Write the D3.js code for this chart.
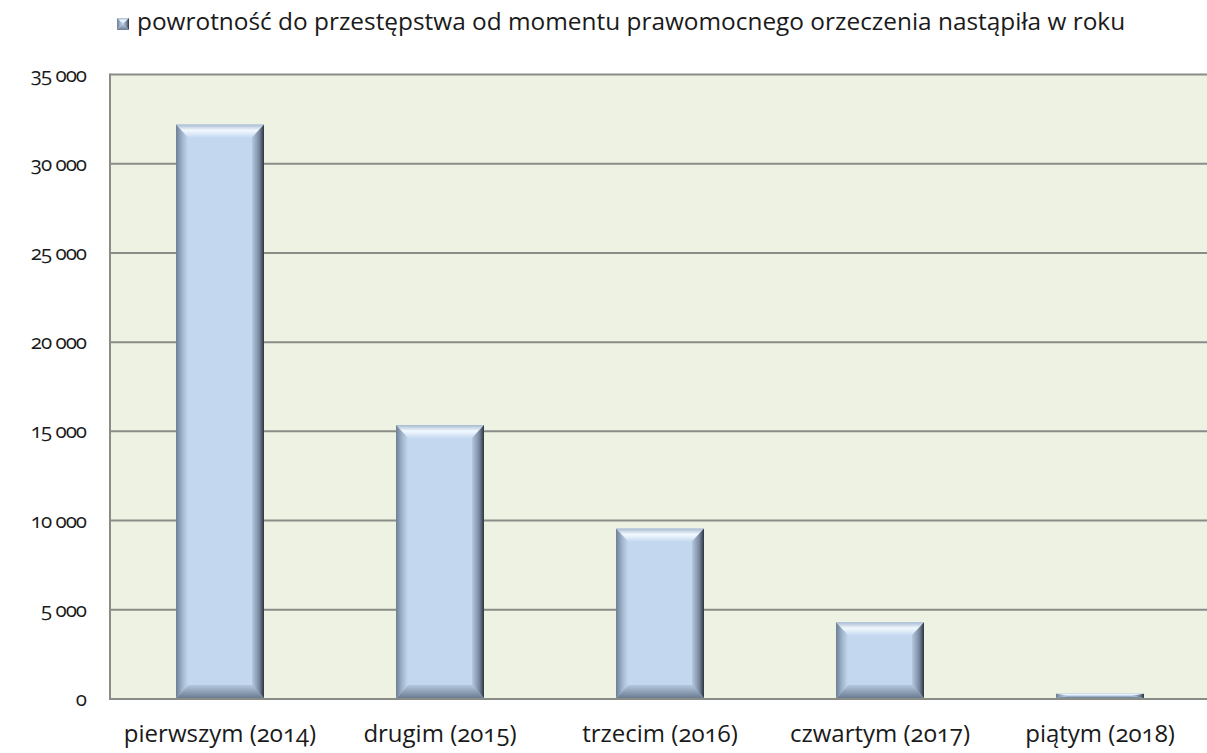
<!DOCTYPE html>
<html>
<head>
<meta charset="utf-8">
<script src="https://cdn.jsdelivr.net/npm/d3@7"></script>
<style>
  body { margin: 0; background: #fff; }
  text { font-family: "Open Sans", Lato, "Noto Sans", sans-serif; fill: #1a1a1a; font-variant-numeric: oldstyle-nums; }
</style>
</head>
<body>
<svg id="chart" width="1207" height="753"></svg>
<script>
const categories = ['pierwszym (2014)', 'drugim (2015)', 'trzecim (2016)', 'czwartym (2017)', 'piątym (2018)'];
const values = [32200, 15350, 9550, 4300, 300];
const yTicks = [0, 5000, 10000, 15000, 20000, 25000, 30000, 35000];
const seriesName = 'powrotność do przestępstwa od momentu prawomocnego orzeczenia nastąpiła w roku';

const svg = d3.select('#chart');
const m = { left: 110, right: 1210, top: 74.5, bottom: 699 };

const x = d3.scaleBand().domain(categories).range([m.left, m.right]).paddingInner(0.6).paddingOuter(0.3);
const y = d3.scaleLinear().domain([0, 35000]).range([m.bottom, m.top]);

const fmt = (v) => d3.format(',')(v).replace(/,/g, ' ');

// gradients for the bevelled bars
const defs = svg.append('defs');
const grad = (id, x2, y2, stops) => {
  const g = defs.append('linearGradient').attr('id', id)
    .attr('x1', 0).attr('y1', 0).attr('x2', x2).attr('y2', y2);
  stops.forEach(([o, c]) => g.append('stop').attr('offset', o).attr('stop-color', c));
};
grad('gLeft', 1, 0, [[0, '#6d7f95'], [0.5, '#9fb3ca'], [1, '#c3d7ef']]);
grad('gRight', 1, 0, [[0, '#b6c9e0'], [0.6, '#7a8aa0'], [1, '#2c3540']]);
grad('gTop', 0, 1, [[0, '#a8bbd1'], [0.45, '#f2f9ff'], [1, '#c6daf1']]);
grad('gBottom', 0, 1, [[0, '#b4c7de'], [1, '#6b7c90']]);

// plot background
svg.append('rect')
  .attr('x', m.left).attr('y', m.top)
  .attr('width', m.right - m.left).attr('height', m.bottom - m.top)
  .attr('fill', '#eef2e3');

// gridlines
svg.append('g').selectAll('line').data(yTicks).join('line')
  .attr('x1', m.left).attr('x2', m.right)
  .attr('y1', d => y(d)).attr('y2', d => y(d))
  .attr('stroke', '#8a8c88').attr('stroke-width', 2);

// left axis line
svg.append('line')
  .attr('x1', m.left).attr('x2', m.left)
  .attr('y1', m.top - 1).attr('y2', m.bottom + 1)
  .attr('stroke', '#8a8c88').attr('stroke-width', 2);

// y labels
svg.append('g').selectAll('text').data(yTicks).join('text')
  .attr('x', 86).attr('y', d => y(d) + 7)
  .attr('text-anchor', 'end').attr('font-size', 20.5).attr('letter-spacing', -1)
  .attr('xml:space', 'preserve')
  .text(fmt);

// bars
const bars = svg.append('g').selectAll('g').data(values).join('g');
bars.each(function (v, i) {
  const g = d3.select(this);
  const bx = x(categories[i]), bw = x.bandwidth();
  const by = y(v), bh = y(0) - y(v) - 1;
  const b = Math.min(13, bh / 2), bs = Math.min(12, bw / 2);
  const pts = (a) => a.map(p => p.join(',')).join(' ');
  g.append('rect').attr('x', bx).attr('y', by).attr('width', bw).attr('height', bh).attr('fill', '#c3d7ef');
  g.append('polygon').attr('fill', 'url(#gTop)')
    .attr('points', pts([[bx, by], [bx + bw, by], [bx + bw - bs, by + b], [bx + bs, by + b]]));
  g.append('polygon').attr('fill', 'url(#gBottom)')
    .attr('points', pts([[bx, by + bh], [bx + bw, by + bh], [bx + bw - bs, by + bh - b], [bx + bs, by + bh - b]]));
  g.append('polygon').attr('fill', 'url(#gLeft)')
    .attr('points', pts([[bx, by], [bx + bs, by + b], [bx + bs, by + bh - b], [bx, by + bh]]));
  g.append('polygon').attr('fill', 'url(#gRight)')
    .attr('points', pts([[bx + bw, by], [bx + bw - bs, by + b], [bx + bw - bs, by + bh - b], [bx + bw, by + bh]]));
});

// x labels
svg.append('g').selectAll('text').data(categories).join('text')
  .attr('x', d => x(d) + x.bandwidth() / 2).attr('y', 742)
  .attr('text-anchor', 'middle').attr('font-size', 24)
  .text(d => d);

// legend
const lg = svg.append('g').attr('transform', 'translate(117,18)');
lg.append('rect').attr('width', 12).attr('height', 12).attr('fill', '#c3d7ef');
lg.append('polygon').attr('points', '0,0 12,0 6,6').attr('fill', 'url(#gTop)');
lg.append('polygon').attr('points', '0,0 6,6 0,12').attr('fill', 'url(#gLeft)');
lg.append('polygon').attr('points', '12,0 6,6 12,12').attr('fill', 'url(#gRight)');
lg.append('polygon').attr('points', '0,12 6,6 12,12').attr('fill', 'url(#gBottom)');
lg.append('text').attr('x', 20).attr('y', 12).attr('font-size', 24.4).text(seriesName);
</script>
</body>
</html>
